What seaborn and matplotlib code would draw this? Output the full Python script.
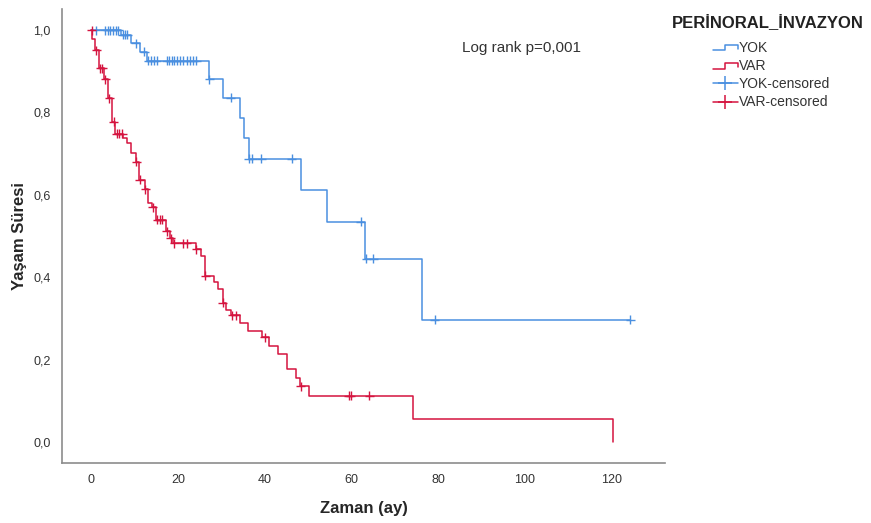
import numpy as np
import pandas as pd
import seaborn as sns
import matplotlib
matplotlib.use("Agg")
import matplotlib.pyplot as plt
from matplotlib.legend_handler import HandlerBase
from matplotlib.lines import Line2D

# ---------------- data ----------------
groups = ["YOK", "VAR"]

yok_step_times = [0, 6.9, 9.2, 11.3, 12.9, 27.1, 30.3, 34.3, 35.2, 36.3, 48.3, 54.3, 63.2, 76.2, 124.3]
yok_survival = [1.0, 0.988, 0.968, 0.947, 0.925, 0.881, 0.836, 0.786, 0.737, 0.687, 0.612, 0.535, 0.445, 0.297, 0.297]
yok_censor_times = [1.1, 3.2, 3.8, 4.4, 5.1, 5.7, 6.3, 7.3, 7.8, 8.3, 10.3, 12.3, 13.2, 13.8, 14.4, 15.1,
                    17.4, 18.0, 18.6, 19.2, 19.8, 20.5, 21.2, 22.0, 22.8, 23.5, 24.3, 27.3, 32.2,
                    36.4, 37.2, 39.2, 46.3, 62.2, 63.4, 65.1, 79.2, 124.3]

var_step_times = [0, 0.3, 1.0, 1.8, 3.0, 4.0, 4.75, 5.6, 7.4, 8.2, 9.2, 10.3, 11.0, 12.4, 13.2, 14.0,
                  15.0, 17.2, 18.3, 19.0, 24.1, 25.3, 26.2, 28.3, 29.3, 30.3, 31.2, 32.3, 34.3, 36.2,
                  39.4, 41.1, 43.2, 45.1, 47.3, 48.1, 50.3, 74.3, 120.3]
var_survival = [1.0, 0.977, 0.951, 0.907, 0.880, 0.834, 0.777, 0.748, 0.737, 0.725, 0.702, 0.680, 0.636,
                0.613, 0.581, 0.570, 0.540, 0.511, 0.494, 0.482, 0.468, 0.451, 0.404, 0.388, 0.371, 0.338,
                0.320, 0.308, 0.290, 0.270, 0.254, 0.233, 0.214, 0.176, 0.155, 0.135, 0.112, 0.057, 0.0]
var_censor_times = [0.15, 1.2, 2.1, 2.6, 3.3, 4.2, 5.2, 5.9, 6.5, 7.2, 10.4, 11.2, 12.5, 14.2, 15.2, 15.8,
                    16.3, 17.4, 18.4, 19.2, 21.3, 22.0, 24.2, 26.3, 30.4, 32.6, 33.3, 40.0, 48.3, 59.4,
                    59.9, 64.1]

x_ticks = [0, 20, 40, 60, 80, 100, 120]
y_ticks = [0.0, 0.2, 0.4, 0.6, 0.8, 1.0]
y_tick_labels = ["0,0", "0,2", "0,4", "0,6", "0,8", "1,0"]

legend_labels = ["YOK", "VAR", "YOK-censored", "VAR-censored"]
legend_title = "PERİNORAL_İNVAZYON"
annotation = "Log rank p=0,001"
x_label = "Zaman (ay)"
y_label = "Yaşam Süresi"

colors = {"YOK": "#4A8FE0", "VAR": "#D5143F"}

# ---------------- frames ----------------
steps = pd.concat([
    pd.DataFrame({"t": yok_step_times, "s": yok_survival, "group": "YOK"}),
    pd.DataFrame({"t": var_step_times, "s": var_survival, "group": "VAR"}),
], ignore_index=True)


def censor_frame(times, step_t, step_s, name):
    idx = np.searchsorted(np.asarray(step_t), np.asarray(times), side="right") - 1
    return pd.DataFrame({"t": times, "s": np.asarray(step_s)[idx], "group": name})


cens = pd.concat([
    censor_frame(yok_censor_times, yok_step_times, yok_survival, "YOK"),
    censor_frame(var_censor_times, var_step_times, var_survival, "VAR"),
], ignore_index=True)

# ---------------- style ----------------
sns.set_style("white")
plt.rcParams["font.family"] = ["Liberation Sans", "DejaVu Sans"]

fig = plt.figure(figsize=(8.71, 5.23), dpi=100)
ax = fig.add_axes([62 / 871, 1 - 463 / 523, (665 - 62) / 871, (463 - 9) / 523])

sns.lineplot(data=steps, x="t", y="s", hue="group", hue_order=groups, palette=colors,
             drawstyle="steps-post", estimator=None, sort=False, linewidth=1.1,
             legend=False, ax=ax)
sns.scatterplot(data=cens, x="t", y="s", hue="group", hue_order=groups, palette=colors,
                marker="+", s=42, linewidth=1.0, legend=False, ax=ax, zorder=3)

ax.set_xlim(-6.7, 132.3)
ax.set_ylim(-0.051, 1.051)
ax.set_xticks(x_ticks)
ax.set_xticklabels([str(v) for v in x_ticks])
ax.set_yticks(y_ticks)
ax.set_yticklabels(y_tick_labels)
ax.tick_params(axis="both", length=0, labelsize=9, colors="#333333", pad=8)
for side in ["top", "right"]:
    ax.spines[side].set_visible(False)
for side in ["left", "bottom"]:
    ax.spines[side].set_color("#8C8C8C")
    ax.spines[side].set_linewidth(1.2)

ax.set_xlabel(x_label, fontsize=12, fontweight="bold", labelpad=11)
ax.set_ylabel(y_label, fontsize=12, fontweight="bold", labelpad=5)

ax.text(85.5, 0.956, annotation, fontsize=11, color="#333333", va="center", ha="left")


# ---------------- legend ----------------
class StepHandler(HandlerBase):
    def create_artists(self, legend, orig_handle, xdescent, ydescent, width, height, fontsize, trans):
        x0 = -xdescent
        x1 = x0 + width
        ylo = -ydescent + height * 0.15
        yhi = -ydescent + height * 0.75
        xm = x0 + width * 0.5
        line = Line2D([x0, xm, xm, x1, x1], [ylo, ylo, yhi, yhi, ylo + (yhi - ylo) * 0.25],
                      color=orig_handle.get_color(), linewidth=orig_handle.get_linewidth())
        line.set_transform(trans)
        return [line]


h_yok = Line2D([], [], color=colors["YOK"], linewidth=1.1)
h_var = Line2D([], [], color=colors["VAR"], linewidth=1.1)
h_yokc = Line2D([], [], color=colors["YOK"], linewidth=1.1, marker="+", markersize=10, markeredgewidth=1.1)
h_varc = Line2D([], [], color=colors["VAR"], linewidth=1.1, marker="+", markersize=10, markeredgewidth=1.1)

fig.legend([h_yok, h_var, h_yokc, h_varc], legend_labels,
           handler_map={h_yok: StepHandler(), h_var: StepHandler()},
           loc="upper left", bbox_to_anchor=(706 / 871, 1 - 34 / 523), frameon=False,
           fontsize=10, handlelength=1.8, handletextpad=0.05, labelspacing=0.3,
           borderpad=0, labelcolor="#333333")

fig.text(672 / 871, 1 - 22 / 523, legend_title, fontsize=12, fontweight="bold",
         color="#222222", va="center", ha="left")

fig.savefig("out.png", dpi=100)
